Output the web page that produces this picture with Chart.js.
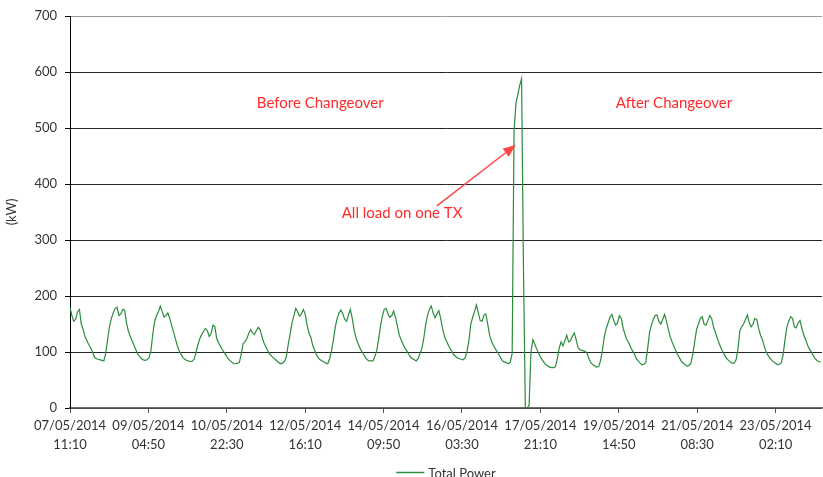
<!DOCTYPE html>
<html>
<head>
<meta charset="utf-8">
<script src="https://cdn.jsdelivr.net/npm/chart.js@4.4.1/dist/chart.umd.min.js"></script>
<style>
  html, body { margin: 0; padding: 0; background: #fff; }
</style>
</head>
<body>
<canvas id="chart" width="823" height="477"></canvas>
<script>
// hourly readings starting 07/05/2014 11:10
const stepMinutes = 60;
const tickEvery = 2500; // minutes between axis labels
const tickLabels = [
  ["07/05/2014", "11:10"], ["09/05/2014", "04:50"], ["10/05/2014", "22:30"],
  ["12/05/2014", "16:10"], ["14/05/2014", "09:50"], ["16/05/2014", "03:30"],
  ["17/05/2014", "21:10"], ["19/05/2014", "14:50"], ["21/05/2014", "08:30"],
  ["23/05/2014", "02:10"]
];
const totalPower = [
  180,165,155,158,172,176,150,140,127,120,113,107,100,91,88,87,86,85,84,98,122,146,160,170,
  178,180,165,168,176,175,152,138,128,120,112,104,96,92,88,86,85,86,90,102,132,155,165,172,
  182,172,162,165,170,160,148,136,124,112,102,96,90,87,85,84,83,84,87,100,113,124,131,137,
  142,138,128,133,148,145,124,116,110,104,99,94,88,85,82,79,79,80,81,96,115,118,124,133,
  140,134,131,138,144,140,128,117,110,103,97,93,90,87,84,81,79,80,83,92,114,132,152,165,
  178,172,164,168,176,168,148,134,126,112,103,95,89,86,84,82,80,79,88,103,122,145,160,170,
  175,168,158,155,166,176,160,140,125,116,108,101,96,90,86,84,84,84,92,102,122,146,164,176,
  178,168,162,165,173,162,146,130,122,114,107,102,96,91,88,86,84,88,97,106,124,148,165,176,
  182,170,161,168,174,160,142,128,120,113,106,101,95,92,89,88,87,86,90,101,120,150,162,172,
  184,170,156,155,166,168,150,130,119,112,106,101,95,89,84,82,81,79,82,98,495,544,560,576,
  588,250,0,0,5,100,122,114,106,98,91,86,81,77,75,73,72,72,74,88,107,118,111,120,
  130,118,120,128,134,122,108,104,103,102,101,96,86,80,77,75,73,74,85,104,128,142,152,162,
  167,156,148,152,165,160,142,131,122,116,108,102,96,88,84,80,77,78,81,106,134,148,158,165,
  166,154,150,158,167,155,140,127,118,110,102,95,89,83,80,77,75,76,80,96,118,140,150,160,
  163,150,148,156,165,160,145,135,125,115,107,100,94,88,85,82,80,80,86,105,138,145,150,158,
  166,152,145,150,160,158,142,130,122,110,100,94,89,85,82,80,77,78,81,95,122,145,155,163,
  160,145,143,152,156,142,130,122,112,105,100,94,88,85,83,82
];

// text notes placed in data space (minutes, kW)
const notes = [
  { text: "Before Changeover", at: 133 * 60, kw: 545 },
  { text: "After Changeover", at: 321 * 60, kw: 545 },
  { text: "All load on one TX", at: 176.5 * 60, kw: 348 }
];
const arrow = { from: [195 * 60, 361], to: [237 * 60, 470] };

const fontFamily = "Lato, 'Open Sans', sans-serif";
const lineColor = "#2a8c3c";

const extras = {
  id: "extras",
  afterDraw(chart) {
    const c = chart.ctx;
    const xs = chart.scales.x, ys = chart.scales.y;
    c.save();
    c.font = "15px " + fontFamily;
    c.fillStyle = "#ff2a2a";
    c.textAlign = "center";
    c.textBaseline = "middle";
    notes.forEach(n => c.fillText(n.text, xs.getPixelForValue(n.at), ys.getPixelForValue(n.kw)));

    // arrow
    const x1 = xs.getPixelForValue(arrow.from[0]), y1 = ys.getPixelForValue(arrow.from[1]);
    const x2 = xs.getPixelForValue(arrow.to[0]), y2 = ys.getPixelForValue(arrow.to[1]);
    const ang = Math.atan2(y2 - y1, x2 - x1);
    const headLen = 13, headW = 5;
    c.strokeStyle = "#ff4646";
    c.fillStyle = "#ff4646";
    c.lineWidth = 1.5;
    c.beginPath();
    c.moveTo(x1, y1);
    c.lineTo(x2 - Math.cos(ang) * headLen, y2 - Math.sin(ang) * headLen);
    c.stroke();
    c.beginPath();
    c.moveTo(x2, y2);
    c.lineTo(x2 - Math.cos(ang) * headLen - Math.sin(ang) * headW, y2 - Math.sin(ang) * headLen + Math.cos(ang) * headW);
    c.lineTo(x2 - Math.cos(ang) * headLen + Math.sin(ang) * headW, y2 - Math.sin(ang) * headLen - Math.cos(ang) * headW);
    c.closePath();
    c.fill();

    // legend (sits at the bottom edge, partly cut off)
    c.font = "13px " + fontFamily;
    const label = chart.data.datasets[0].label;
    const tw = c.measureText(label).width;
    const total = 28 + 4 + tw;
    const lx = (chart.chartArea.left + chart.chartArea.right) / 2 - total / 2;
    const ly = chart.height - 4.5;
    c.strokeStyle = lineColor;
    c.lineWidth = 1.5;
    c.beginPath();
    c.moveTo(lx, ly);
    c.lineTo(lx + 28, ly);
    c.stroke();
    c.fillStyle = "#333";
    c.textAlign = "left";
    c.fillText(label, lx + 32, ly + 1);
    c.restore();
  }
};

const points = totalPower.map((v, i) => ({ x: i * stepMinutes, y: v }));

new Chart(document.getElementById("chart"), {
  type: "line",
  data: {
    datasets: [{
      label: "Total Power",
      data: points,
      borderColor: lineColor,
      borderWidth: 1.2,
      pointRadius: 0,
      tension: 0,
      fill: false
    }]
  },
  options: {
    responsive: false,
    animation: false,
    devicePixelRatio: 1,
    events: [],
    layout: { padding: { left: 0, right: 1, top: 16, bottom: 0 } },
    plugins: {
      legend: { display: false },
      tooltip: { enabled: false }
    },
    scales: {
      x: {
        type: "linear",
        min: 0,
        max: (totalPower.length - 1) * stepMinutes + 40,
        afterFit: s => { s.height = 69; },
        afterBuildTicks: s => {
          s.ticks = tickLabels.map((_, k) => ({ value: k * tickEvery }));
        },
        grid: { drawOnChartArea: false, drawTicks: true, tickLength: 5, tickColor: "#555" },
        border: { color: "#6b6b6b", width: 1.5 },
        ticks: {
          autoSkip: false,
          maxRotation: 0,
          padding: 3,
          color: "#333",
          font: { family: fontFamily, size: 13, lineHeight: 1.5 },
          callback: v => tickLabels[Math.round(v / tickEvery)]
        }
      },
      y: {
        min: 0,
        max: 700,
        afterFit: s => { s.width = 70; },
        title: {
          display: true,
          text: "(kW)",
          color: "#333",
          font: { family: fontFamily, size: 13 },
          padding: { top: 4, bottom: 0 }
        },
        grid: {
          color: ctx => ctx.tick && ctx.tick.value === 700 ? "#999" : "#262626",
          lineWidth: 1,
          tickLength: 5,
          tickColor: "#000"
        },
        border: { color: "#000", width: 1 },
        ticks: {
          stepSize: 100,
          padding: 8,
          color: "#333",
          font: { family: fontFamily, size: 13 }
        }
      }
    }
  },
  plugins: [extras]
});
</script>
</body>
</html>
